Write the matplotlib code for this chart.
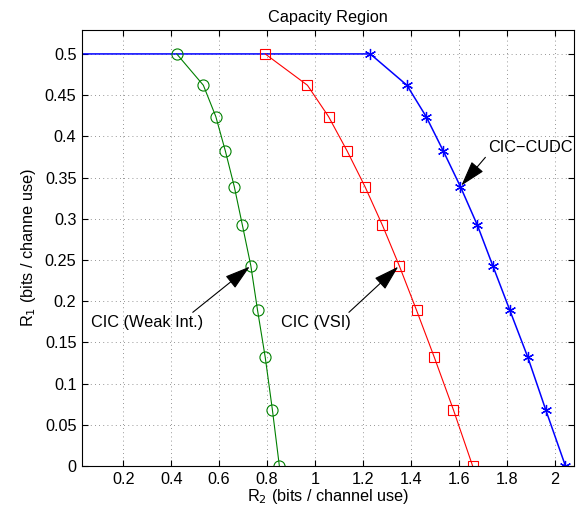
import numpy as np
import matplotlib
matplotlib.use("Agg")
import matplotlib.pyplot as plt

plt.rcParams['font.family'] = ['Liberation Sans', 'DejaVu Sans']

# rate pairs (R2, R1)
r1 = [0.5, 0.462, 0.424, 0.382, 0.339, 0.292, 0.243, 0.189, 0.132, 0.068, 0.0]
r2_weak = [0.423, 0.534, 0.586, 0.626, 0.663, 0.697, 0.732, 0.760, 0.792, 0.822, 0.851]
r2_vsi = [0.792, 0.968, 1.056, 1.134, 1.208, 1.281, 1.351, 1.423, 1.497, 1.577, 1.657]
r2_cudc = [1.230, 1.383, 1.463, 1.535, 1.606, 1.677, 1.741, 1.812, 1.887, 1.962, 2.044]

xticks = [0.2, 0.4, 0.6, 0.8, 1, 1.2, 1.4, 1.6, 1.8, 2]
xticklabels = ['0.2', '0.4', '0.6', '0.8', '1', '1.2', '1.4', '1.6', '1.8', '2']
yticks = [0, 0.05, 0.1, 0.15, 0.2, 0.25, 0.3, 0.35, 0.4, 0.45, 0.5]
yticklabels = ['0', '0.05', '0.1', '0.15', '0.2', '0.25', '0.3', '0.35', '0.4', '0.45', '0.5']

fs = 11.7

fig = plt.figure(figsize=(5.87, 5.15), dpi=100)
ax = fig.add_axes([0.1397, 0.0951, 0.978 - 0.1397, 0.9417 - 0.0951])

# blue curve starts at R2 = 0 (flat part)
ax.plot([0] + r2_cudc, [0.5] + r1, '-', color='b', lw=1.1, marker=(6, 2, 0),
        ms=8, mew=0.9, markevery=list(range(1, len(r1) + 1)))
ax.plot(r2_vsi, r1, '-', color='r', lw=0.8, marker='s', ms=7, mfc='none', mew=0.8)
ax.plot(r2_weak, r1, '-', color='#008000', lw=0.8, marker='o', ms=8, mfc='none', mew=0.8)

ax.set_xlim(0.028, 2.08)
ax.set_ylim(0, 0.529)
ax.set_xticks(xticks)
ax.set_xticklabels(xticklabels)
ax.set_yticks(yticks)
ax.set_yticklabels(yticklabels)
ax.tick_params(direction='in', top=True, right=True, labelsize=fs, length=4, pad=4)
ax.grid(True, linestyle=(0, (1, 4)), color='0.45', lw=0.6)
for s in ax.spines.values():
    s.set_linewidth(0.8)

ax.set_title('Capacity Region', fontsize=fs, pad=6)
ax.set_xlabel('R$_2$ (bits / channel use)', fontsize=fs, labelpad=0)
ax.set_ylabel('R$_1$ (bits / channe use)', fontsize=fs, labelpad=5)

arrow = dict(arrowstyle='-|>,head_length=0.8,head_width=0.24', color='k', lw=0.8,
             mutation_scale=20, shrinkA=0, shrinkB=1)
ax.annotate('CIC\u2212CUDC', xy=(1.606, 0.339), xytext=(1.72, 0.387),
            fontsize=fs, va='center', ha='left', arrowprops=dict(arrow, relpos=(0, 0)))
ax.annotate('CIC (Weak Int.)', xy=(0.732, 0.243), xytext=(0.064, 0.174),
            fontsize=fs, va='center', ha='left', arrowprops=dict(arrow, relpos=(0.88, 1)))
ax.annotate('CIC (VSI)', xy=(1.351, 0.243), xytext=(0.858, 0.174),
            fontsize=fs, va='center', ha='left', arrowprops=dict(arrow, relpos=(0.93, 1)))

fig.savefig('out.png', dpi=100)
